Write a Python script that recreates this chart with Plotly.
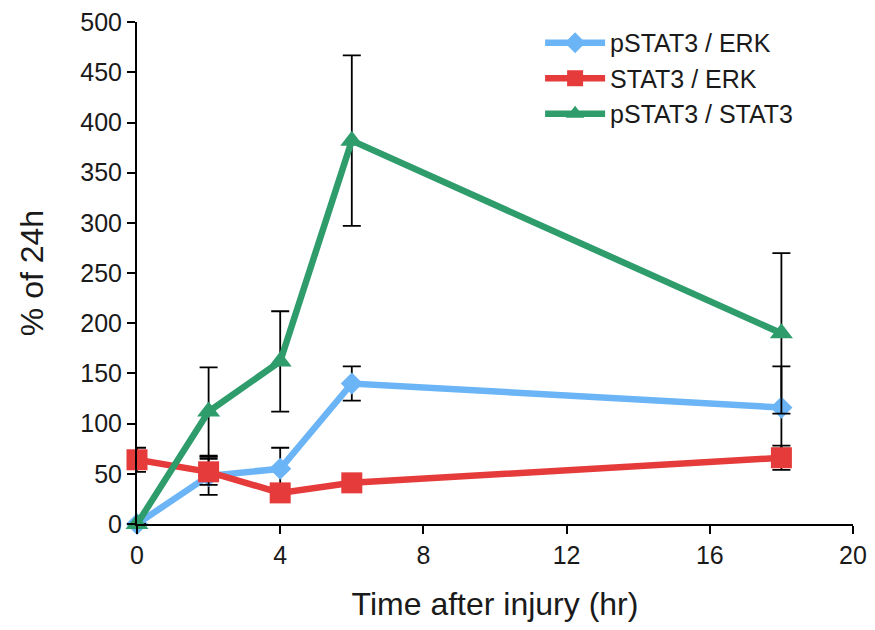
import plotly.graph_objects as go

time_hr = [0, 2, 4, 6, 18]

pstat3_erk = [0, 48, 55, 140, 116]
pstat3_erk_err = [0, 19, 21, 17, 41]

stat3_erk = [64, 52, 31, 41, 66]
stat3_erk_err = [12, 13, 5, 5, 12]

pstat3_stat3 = [0, 112, 162, 382, 190]
pstat3_stat3_err = [0, 44, 50, 85, 80]

y_ticks = [0, 50, 100, 150, 200, 250, 300, 350, 400, 450, 500]
x_ticks = [0, 4, 8, 12, 16, 20]

series = [
    ("pSTAT3 / ERK", pstat3_erk, pstat3_erk_err, "#6BB5F7", "diamond", 17),
    ("STAT3 / ERK", stat3_erk, stat3_erk_err, "#E53B3A", "square", 21),
    ("pSTAT3 / STAT3", pstat3_stat3, pstat3_stat3_err, "#2F9C6C", "triangle-up", 20),
]

FONT = "Liberation Sans, Arial, sans-serif"

fig = go.Figure()
for i, (name, vals, errs, color, sym, msize) in enumerate(series):
    fig.add_trace(go.Scatter(
        x=time_hr, y=vals, name=name, mode="lines+markers",
        line=dict(color=color, width=6.5),
        marker=dict(symbol=sym, size=msize, color=color),
        error_y=dict(type="data", array=errs, visible=True, color="black",
                     thickness=1.8, width=9),
        legendgroup=f"g{i}",
        cliponaxis=False,
    ))

axis_font = dict(family=FONT, size=25, color="#1a1a1a")
title_font = dict(family=FONT, size=32, color="#1a1a1a")
fig.update_layout(
    width=867, height=622,
    margin=dict(l=129, r=22, t=14, b=106, autoexpand=False),
    paper_bgcolor="white", plot_bgcolor="white",
    font=dict(family=FONT, color="#1a1a1a"),
    showlegend=True,
    legend=dict(x=0.563, y=1.004, xanchor="left", yanchor="top",
                font=dict(size=25, family=FONT, color="#1a1a1a"),
                tracegroupgap=0, bgcolor="rgba(0,0,0,0)", itemwidth=60),
    xaxis=dict(range=[0, 20], tickmode="array", tickvals=x_ticks,
               showline=True, linecolor="black", linewidth=2,
               ticks="outside", ticklen=8, tickwidth=1.5, tickcolor="black",
               showgrid=False, zeroline=False, tickfont=axis_font,
               ticklabeloverflow="allow", automargin=False,
               title=dict(text="Time after injury (hr)", font=title_font, standoff=25)),
    yaxis=dict(range=[0, 500.2], tickmode="array", tickvals=y_ticks,
               showline=True, linecolor="black", linewidth=2,
               ticks="outside", ticklen=8, tickwidth=1.5, tickcolor="black",
               showgrid=False, zeroline=False, tickfont=axis_font,
               ticklabeloverflow="allow", automargin=False,
               title=dict(text="% of 24h", font=title_font, standoff=27)),
)

fig.write_html("out.html")
